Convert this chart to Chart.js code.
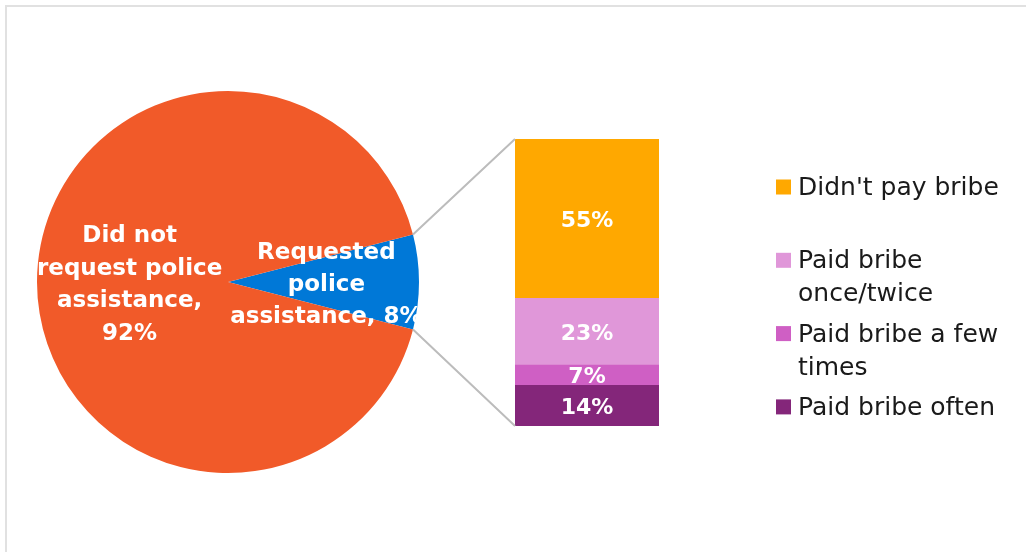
<!DOCTYPE html>
<html>
<head>
<meta charset="utf-8">
<script src="https://cdn.jsdelivr.net/npm/chart.js@4.4.1/dist/chart.umd.min.js"></script>
<style>
  html, body { margin: 0; padding: 0; background: #ffffff; }
  #wrap { position: relative; width: 1026px; height: 552px; overflow: hidden; background: #ffffff; }
  #frame { position: absolute; left: 5px; top: 5px; width: 1040px; height: 570px;
           border-left: 2px solid #e1e1e1; border-top: 2px solid #e1e1e1; }
  canvas { position: absolute; left: 0; top: 0; }
</style>
</head>
<body>
<div id="wrap">
  <div id="frame"></div>
  <canvas id="pie" width="1026" height="552"></canvas>
  <canvas id="bar" width="1026" height="552"></canvas>
</div>
<script>
// Police assistance split (pie)
const pieLabels = ['Requested police assistance', 'Did not request police assistance'];
const pieValues = [8, 92];
const pieColors = ['#0078d7', '#f15a29'];
// Text shown inside each slice
const pieSliceText = [['Requested', 'police', 'assistance, 8%'], ['Did not', 'request police', 'assistance,', '92%']];

// Bribery among those who requested assistance (stacked bar, bottom to top)
const bribeCategories = ['Requested police assistance'];
const bribeLabels = ['Paid bribe often', 'Paid bribe a few times', 'Paid bribe once/twice', "Didn't pay bribe"];
const bribeValues = [14, 7, 23, 55];
const bribeColors = ['#84267a', '#cf5fc4', '#e097d9', '#ffa800'];

const FONT = "'DejaVu Sans', sans-serif";

// Pie starts so that the small slice is centred on the right-hand side
const pieTotal = pieValues.reduce((a, b) => a + b, 0);
const pieRotation = 90 - (pieValues[0] / pieTotal) * 360 / 2;

const sliceLabelPlugin = {
  id: 'sliceLabels',
  afterDatasetsDraw(chart) {
    const ctx = chart.ctx;
    const arcs = chart.getDatasetMeta(0).data;
    ctx.save();
    ctx.fillStyle = '#ffffff';
    ctx.font = 'bold 23px ' + FONT;
    ctx.textAlign = 'center';
    ctx.textBaseline = 'middle';
    const lineH = 32.4;
    arcs.forEach((arc, i) => {
      const p = arc.getProps(['x', 'y', 'startAngle', 'endAngle', 'outerRadius'], true);
      const mid = (p.startAngle + p.endAngle) / 2;
      const r = p.outerRadius * 0.515;
      const cx = p.x + Math.cos(mid) * r;
      const cy = p.y + Math.sin(mid) * r + 3;
      const lines = pieSliceText[i];
      const y0 = cy - (lines.length - 1) * lineH / 2;
      lines.forEach((t, k) => ctx.fillText(t, cx, y0 + k * lineH));
    });
    ctx.restore();
  }
};

const pieChart = new Chart(document.getElementById('pie'), {
  type: 'pie',
  data: {
    labels: pieLabels,
    datasets: [{ data: pieValues, backgroundColor: pieColors, borderWidth: 0, hoverOffset: 0 }]
  },
  options: {
    responsive: false,
    animation: false,
    devicePixelRatio: 1,
    rotation: pieRotation,
    layout: { padding: { left: 37, top: 91, right: 607, bottom: 79 } },
    plugins: { legend: { display: false }, tooltip: { enabled: false } },
    events: []
  },
  plugins: [sliceLabelPlugin]
});

const bribeTotal = bribeValues.reduce((a, b) => a + b, 0);

// Connector lines, value labels and the side legend for the bar
const barExtrasPlugin = {
  id: 'barExtras',
  afterDatasetsDraw(chart) {
    const ctx = chart.ctx;
    ctx.save();

    // connectors from the small pie slice to the bar
    const blue = pieChart.getDatasetMeta(0).data[0].getProps(['x', 'y', 'startAngle', 'endAngle', 'outerRadius'], true);
    const lastIdx = chart.data.datasets.length - 1;
    const bottomBar = chart.getDatasetMeta(0).data[0];
    const topBar = chart.getDatasetMeta(lastIdx).data[0];
    const left = bottomBar.x - bottomBar.width / 2;
    ctx.strokeStyle = '#bcbcbc';
    ctx.lineWidth = 2;
    ctx.beginPath();
    ctx.moveTo(blue.x + Math.cos(blue.startAngle) * blue.outerRadius, blue.y + Math.sin(blue.startAngle) * blue.outerRadius);
    ctx.lineTo(left, topBar.y);
    ctx.moveTo(blue.x + Math.cos(blue.endAngle) * blue.outerRadius, blue.y + Math.sin(blue.endAngle) * blue.outerRadius);
    ctx.lineTo(left, bottomBar.base);
    ctx.stroke();

    // value labels
    ctx.fillStyle = '#ffffff';
    ctx.font = 'bold 22px ' + FONT;
    ctx.textAlign = 'center';
    ctx.textBaseline = 'middle';
    chart.data.datasets.forEach((ds, i) => {
      const el = chart.getDatasetMeta(i).data[0];
      ctx.fillText(ds.data[0] + '%', el.x, (el.y + el.base) / 2 + 2.5);
    });

    // legend, listed top to bottom in stacking order
    ctx.font = '25px ' + FONT;
    ctx.textAlign = 'left';
    const boxX = 776, textX = 798, firstY = 187, slot = 73.3, lineH = 33, maxW = 216;
    const order = chart.data.datasets.slice().reverse();
    order.forEach((ds, k) => {
      const cy = firstY + k * slot;
      ctx.fillStyle = ds.backgroundColor;
      ctx.fillRect(boxX, cy - 7.5, 15, 15);
      // wrap label words into lines
      const words = ds.label.split(' ');
      const lines = [];
      let cur = '';
      words.forEach(w => {
        const test = cur ? cur + ' ' + w : w;
        if (ctx.measureText(test).width > maxW && cur) { lines.push(cur); cur = w; } else { cur = test; }
      });
      lines.push(cur);
      ctx.fillStyle = '#1a1a1a';
      lines.forEach((t, j) => ctx.fillText(t, textX, cy + j * lineH + 1.5));
    });
    ctx.restore();
  }
};

new Chart(document.getElementById('bar'), {
  type: 'bar',
  data: {
    labels: bribeCategories,
    datasets: bribeLabels.map((lab, i) => ({
      label: lab,
      data: [bribeValues[i]],
      backgroundColor: bribeColors[i],
      borderWidth: 0,
      barPercentage: 1,
      categoryPercentage: 1
    }))
  },
  options: {
    responsive: false,
    animation: false,
    devicePixelRatio: 1,
    layout: { padding: { left: 515, top: 139, right: 367, bottom: 126 } },
    scales: {
      x: { stacked: true, display: false },
      y: { stacked: true, display: false, min: 0, max: bribeTotal }
    },
    plugins: { legend: { display: false }, tooltip: { enabled: false } },
    events: []
  },
  plugins: [barExtrasPlugin]
});
</script>
</body>
</html>
